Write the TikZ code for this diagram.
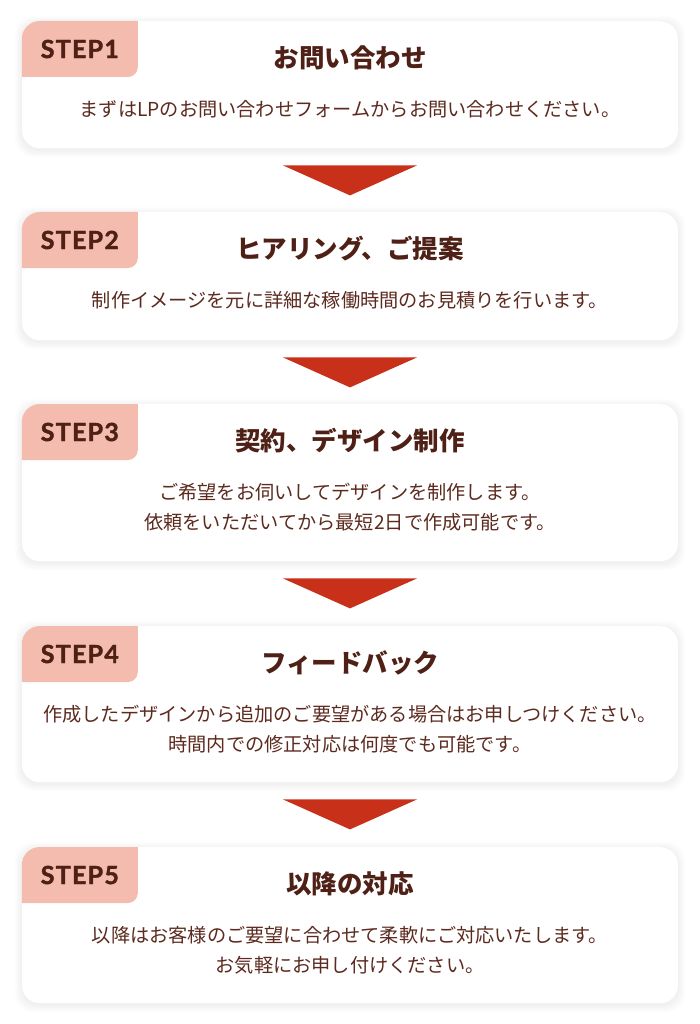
\documentclass[tikz,border=0pt]{standalone}
\usepackage{fontspec}
\setmainfont{Noto Sans CJK JP}
\newfontfamily\stepfont{Lato}[LetterSpace=5, BoldFeatures={FakeBold=1.6}]
\usetikzlibrary{calc}

\definecolor{textbrown}{HTML}{5C2A1F}
\definecolor{titlebrown}{HTML}{4F2015}
\definecolor{tabpink}{HTML}{F4BCAF}
\definecolor{arrowred}{HTML}{C8301A}

\tikzset{
  card/.style = {fill=white, rounded corners=18pt, minimum width=656pt, inner sep=0pt},
  cardshade/.style = {fill=black, opacity=0.006, rounded corners=18pt},
  tab/.style = {fill=tabpink, rounded corners=10pt},
  steplabel/.style = {font=\stepfont\bfseries\fontsize{25}{25}\selectfont, text=titlebrown},
  steptitle/.style = {font=\bfseries\fontsize{25.5}{30}\selectfont, text=titlebrown},
  stepbody/.style = {font=\fontsize{19.2}{30}\selectfont, text=textbrown, align=center, inner sep=0pt},
  downarrow/.style = {fill=arrowred}
}

\begin{document}
\begin{tikzpicture}[x=1pt, y=-1pt]
    \fill[white] (0,0) rectangle (700,1024);
    \useasboundingbox (0,0) rectangle (700,1024);

    \foreach \n/\top/\h/\head/\txt in {
        1/21/127/{お問い合わせ}/{まずはLPのお問い合わせフォームからお問い合わせください。},
        2/212/128/{ヒアリング、ご提案}/{制作イメージを元に詳細な稼働時間のお見積りを行います。},
        3/404/157/{契約、デザイン制作}/{ご希望をお伺いしてデザインを制作します。\\依頼をいただいてから最短2日で作成可能です。},
        4/626/156/{フィードバック}/{作成したデザインから追加のご要望がある場合はお申しつけください。\\時間内での修正対応は何度でも可能です。},
        5/847/156/{以降の対応}/{以降はお客様のご要望に合わせて柔軟にご対応いたします。\\お気軽にお申し付けください。}} {
        \foreach \s in {1,...,7}
            \fill[cardshade] (22-\s,\top-\s+2) rectangle (678+\s,\top+\h+\s+2);
        \node[card, minimum height=\h pt, anchor=north] (b\n) at (350,\top) {};
        \begin{scope}
            \path[clip, rounded corners=18pt] (b\n.north west) rectangle (b\n.south east);
            \fill[tab] ([xshift=-14pt, yshift=14pt]b\n.north west) rectangle ([xshift=116pt, yshift=-56pt]b\n.north west);
        \end{scope}
        \node[steplabel] (s\n) at ([xshift=58pt, yshift=-28pt]b\n.north west) {STEP\n};
        \node[steptitle] (t\n) at ([yshift=-37pt]b\n.north) {\head};
        \node[stepbody, anchor=north] (d\n) at ([yshift=-79pt]b\n.north) {\txt};
    }

    \foreach \i in {1,...,4}
        \fill[downarrow] ([xshift=-67pt, yshift=-17pt]b\i.south) -- ([xshift=67pt, yshift=-17pt]b\i.south)
            -- ([yshift=-47pt]b\i.south) -- cycle;
\end{tikzpicture}
\end{document}
